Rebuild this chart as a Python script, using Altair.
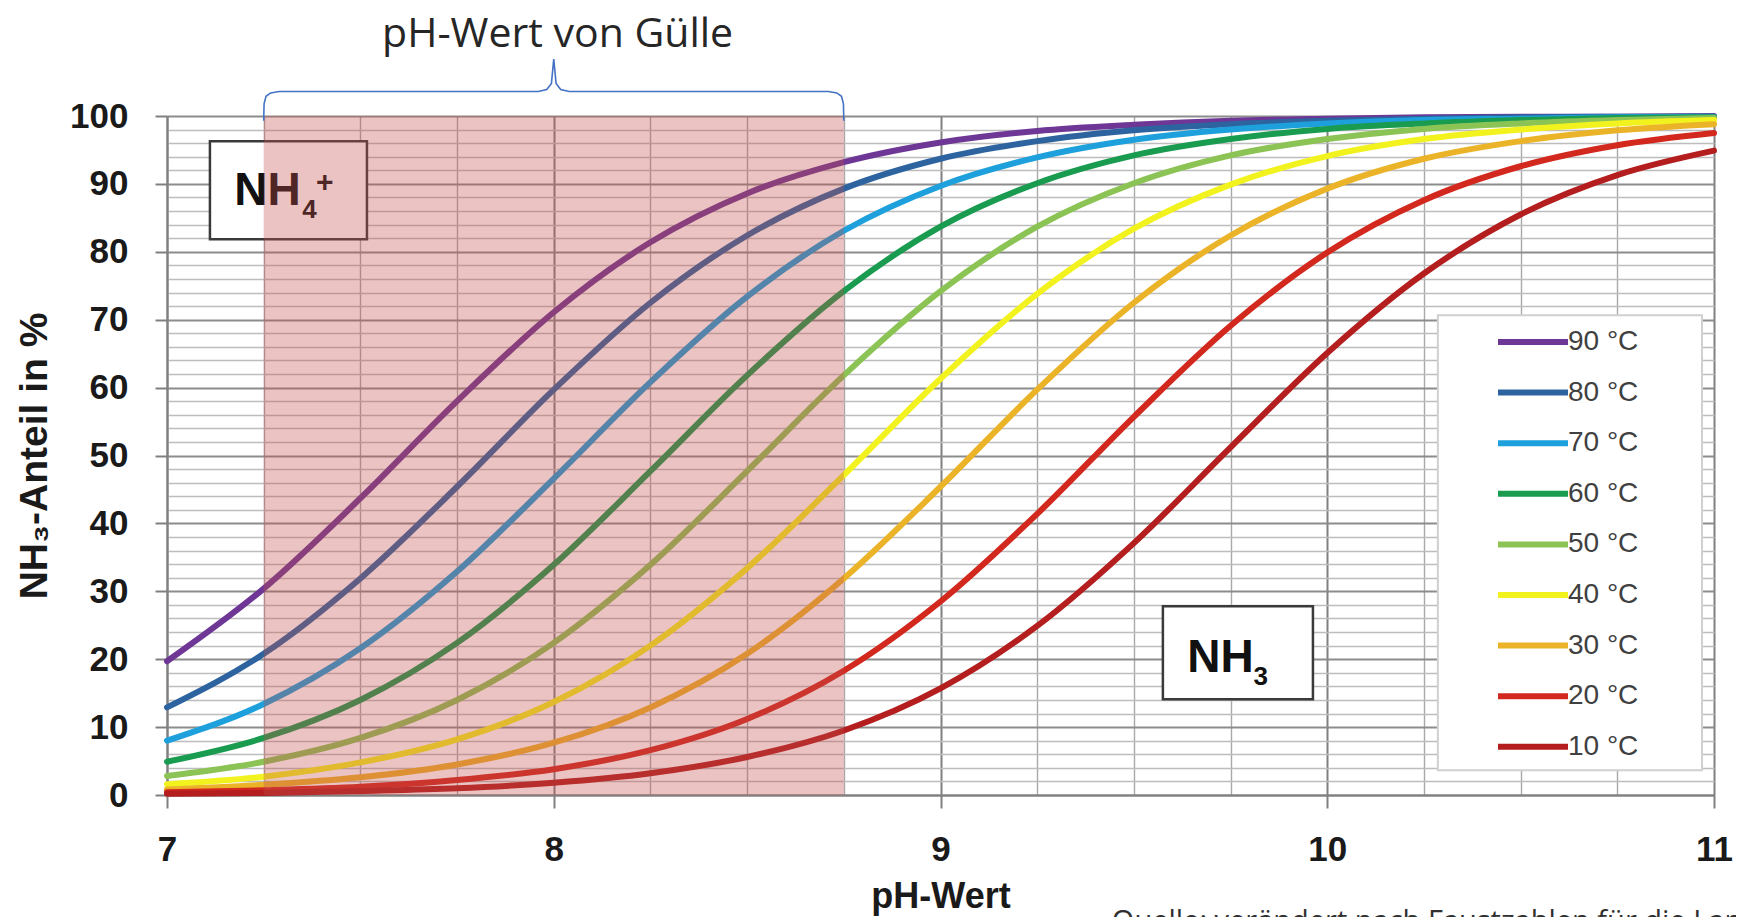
import altair as alt
import pandas as pd

# ---------------- data ----------------
ph_values = [7.0, 7.25, 7.5, 7.75, 8.0, 8.25, 8.5, 8.75, 9.0, 9.25, 9.5, 9.75,
             10.0, 10.25, 10.5, 10.75, 11.0]

temperature_labels = ["90 °C", "80 °C", "70 °C", "60 °C", "50 °C",
                      "40 °C", "30 °C", "20 °C", "10 °C"]

nh3_90 = [19.7, 30.4, 43.7, 58.0, 71.1, 81.4, 88.6, 93.2, 96.1, 97.8, 98.7, 99.3, 99.6, 99.8, 99.9, 99.9, 100.0]
nh3_80 = [12.9, 20.8, 31.9, 45.4, 59.7, 72.5, 82.4, 89.3, 93.7, 96.3, 97.9, 98.8, 99.3, 99.6, 99.8, 99.9, 99.9]
nh3_70 = [8.0, 13.4, 21.6, 32.9, 46.6, 60.8, 73.4, 83.1, 89.7, 93.9, 96.5, 98.0, 98.9, 99.4, 99.6, 99.8, 99.9]
nh3_60 = [4.9, 8.4, 14.0, 22.4, 33.9, 47.7, 61.8, 74.2, 83.7, 90.1, 94.2, 96.6, 98.1, 98.9, 99.4, 99.7, 99.8]
nh3_50 = [2.8, 4.9, 8.4, 14.0, 22.4, 33.9, 47.7, 61.8, 74.2, 83.7, 90.1, 94.2, 96.6, 98.1, 98.9, 99.4, 99.7]
nh3_40 = [1.6, 2.7, 4.8, 8.2, 13.7, 22.0, 33.4, 47.1, 61.3, 73.8, 83.4, 89.9, 94.1, 96.6, 98.0, 98.9, 99.4]
nh3_30 = [0.8, 1.5, 2.6, 4.5, 7.7, 12.9, 20.8, 31.9, 45.4, 59.7, 72.5, 82.4, 89.3, 93.7, 96.3, 97.9, 98.8]
nh3_20 = [0.4, 0.7, 1.2, 2.2, 3.8, 6.6, 11.2, 18.3, 28.5, 41.4, 55.7, 69.1, 79.9, 87.6, 92.6, 95.7, 97.5]
nh3_10 = [0.2, 0.3, 0.6, 1.0, 1.8, 3.2, 5.6, 9.5, 15.7, 24.9, 37.1, 51.2, 65.1, 76.8, 85.5, 91.3, 94.9]

line_colors = ["#6E3796", "#2D64A0", "#1EA0DC", "#199B50", "#8CC355",
               "#F2F21E", "#EBB428", "#D2281E", "#B41E1E"]

# axis tick / grid values
x_grid_values = [7.0, 7.25, 7.5, 7.75, 8.0, 8.25, 8.5, 8.75, 9.0, 9.25, 9.5, 9.75,
                 10.0, 10.25, 10.5, 10.75, 11.0]
y_grid_values = [0, 2, 4, 6, 8, 10, 12, 14, 16, 18, 20, 22, 24, 26, 28, 30, 32, 34, 36, 38,
                 40, 42, 44, 46, 48, 50, 52, 54, 56, 58, 60, 62, 64, 66, 68, 70, 72, 74, 76, 78,
                 80, 82, 84, 86, 88, 90, 92, 94, 96, 98, 100]

# shaded slurry pH range
slurry_ph_from = [7.25]
slurry_ph_to = [8.75]
slurry_pct_from = [0]
slurry_pct_to = [100]

# curly brace above the shaded range
brace_ph = [7.25, 7.251, 7.256, 7.268, 7.29, 7.96, 7.982, 7.994, 8.0, 8.006, 8.018, 8.04,
            8.71, 8.732, 8.744, 8.749, 8.75]
brace_pct = [99.3, 101.8, 102.9, 103.4, 103.6, 103.6, 103.9, 104.8, 108.4, 104.8, 103.9, 103.6,
             103.6, 103.4, 102.9, 101.8, 99.3]

# label boxes (NH4+ and NH3)
box_ph_from = [7.111, 9.575]
box_ph_to = [7.517, 9.963]
box_pct_top = [96.27, 27.8]
box_pct_bottom = [81.84, 14.1]

box_texts = ["NH", "4", "+", "NH", "3"]
box_text_ph = [7.174, 7.350, 7.385, 9.638, 9.809]
box_text_pct = [86.85, 84.93, 88.8, 18.07, 16.16]
box_text_size = [46, 26, 30, 46, 26]

# legend frame
legend_ph_from = [10.286]
legend_ph_to = [10.969]
legend_pct_top = [70.65]
legend_pct_bottom = [3.64]

title_text = ["pH-Wert von Gülle"]
title_ph = [8.01]
title_pct = [110.2]

caption_text = ["Quelle: verändert nach Faustzahlen für die Landwirtschaft (Grün"]
caption_ph = [9.443]
caption_pct = [-20.0]

# ---------------- tables ----------------
series_values = [nh3_90, nh3_80, nh3_70, nh3_60, nh3_50, nh3_40, nh3_30, nh3_20, nh3_10]
rows = []
for i, (t, vals) in enumerate(zip(temperature_labels, series_values)):
    for p, v in zip(ph_values, vals):
        rows.append({"temp": t, "ph": p, "nh3": v, "draw": i})
curves = pd.DataFrame(rows)

slurry = pd.DataFrame({"x": slurry_ph_from, "x2": slurry_ph_to,
                       "y": slurry_pct_from, "y2": slurry_pct_to})
brace = pd.DataFrame({"x": brace_ph, "y": brace_pct, "i": list(range(len(brace_ph)))})
boxes = pd.DataFrame({"x": box_ph_from, "x2": box_ph_to, "y": box_pct_top, "y2": box_pct_bottom})
btexts = pd.DataFrame({"t": box_texts, "x": box_text_ph, "y": box_text_pct, "s": box_text_size})
legend_frame = pd.DataFrame({"x": legend_ph_from, "x2": legend_ph_to,
                             "y": legend_pct_top, "y2": legend_pct_bottom})
title_df = pd.DataFrame({"t": title_text, "x": title_ph, "y": title_pct})
caption_df = pd.DataFrame({"t": caption_text, "x": caption_ph, "y": caption_pct})

# ---------------- scales / axes ----------------
x_scale = alt.Scale(domain=[7, 11], nice=False, zero=False)
y_scale = alt.Scale(domain=[0, 100], nice=False, zero=False)

LBL_FONT = "Liberation Sans"
TXT = "#1a1a1a"

x_major = "datum.value % 1 == 0"
y_major = "datum.value % 10 == 0"

x_axis = alt.Axis(
    values=x_grid_values, tickCount=200, tickMinStep=0.01,
    labelExpr=f"{x_major} ? format(datum.value, 'd') : ''",
    grid=True,
    gridColor={"condition": {"test": x_major, "value": "#808080"}, "value": "#a9a9a9"},
    gridWidth={"condition": {"test": x_major, "value": 2}, "value": 1.4},
    tickOpacity={"condition": {"test": x_major, "value": 1}, "value": 0},
    tickSize=13, tickWidth=2, tickColor="#808080",
    domainColor="#808080", domainWidth=2,
    labelFont=LBL_FONT, labelFontSize=35, labelFontWeight="bold", labelColor=TXT,
    labelPadding=24, labelOverlap=False, labelFlush=False, labelBound=False,
    title="pH-Wert", titleFont=LBL_FONT, titleFontSize=36, titleFontWeight="bold",
    titleColor=TXT, titlePadding=12,
)
y_axis = alt.Axis(
    values=y_grid_values, tickCount=200, tickMinStep=0.1,
    labelExpr=f"{y_major} ? format(datum.value, 'd') : ''",
    grid=True,
    gridColor={"condition": {"test": y_major, "value": "#8c8c8c"}, "value": "#bdbdbd"},
    gridWidth={"condition": {"test": y_major, "value": 2}, "value": 1.4},
    tickOpacity={"condition": {"test": y_major, "value": 1}, "value": 0},
    tickSize=12, tickWidth=2, tickColor="#808080",
    domainColor="#808080", domainWidth=2,
    labelFont=LBL_FONT, labelFontSize=35, labelFontWeight="bold", labelColor=TXT,
    labelPadding=27, labelOverlap=False, labelFlush=False, labelBound=False,
    title="NH₃-Anteil in %", titleFont=LBL_FONT, titleFontSize=39, titleFontWeight="bold",
    titleColor=TXT, titlePadding=15,
)

legend = alt.Legend(
    orient="none", legendX=1328, legendY=208, title=None,
    symbolType="M-1,0H3.667", symbolSize=900, symbolStrokeWidth=6,
    labelFont=LBL_FONT, labelFontSize=28, labelColor="#404040",
    labelOffset=37, rowPadding=18.6, padding=0, symbolOffset=0,
)

lines = alt.Chart(curves).mark_line(strokeWidth=6, strokeCap="round", interpolate="monotone").encode(
    x=alt.X("ph:Q", scale=x_scale, axis=x_axis),
    y=alt.Y("nh3:Q", scale=y_scale, axis=y_axis),
    color=alt.Color("temp:N", scale=alt.Scale(domain=temperature_labels, range=line_colors),
                    sort=temperature_labels, legend=legend),
    detail="draw:O",
)

legend_box = alt.Chart(legend_frame).mark_rect(fill="white", stroke="#d0d0d0", strokeWidth=2).encode(
    x=alt.X("x:Q", scale=x_scale), x2="x2:Q",
    y=alt.Y("y:Q", scale=y_scale), y2="y2:Q",
)

label_boxes = alt.Chart(boxes).mark_rect(fill="white", stroke="#3a3a3a", strokeWidth=2.5).encode(
    x=alt.X("x:Q", scale=x_scale), x2="x2:Q",
    y=alt.Y("y:Q", scale=y_scale), y2="y2:Q",
)

label_texts = alt.Chart(btexts).mark_text(
    font=LBL_FONT, fontWeight="bold", color="#111111", align="left", baseline="alphabetic"
).encode(
    x=alt.X("x:Q", scale=x_scale),
    y=alt.Y("y:Q", scale=y_scale),
    text="t:N",
    size=alt.Size("s:Q", scale=None, legend=None),
)

shade = alt.Chart(slurry).mark_rect(color="#C0504D", opacity=0.34).encode(
    x=alt.X("x:Q", scale=x_scale), x2="x2:Q",
    y=alt.Y("y:Q", scale=y_scale), y2="y2:Q",
)

brace_line = alt.Chart(brace).mark_line(color="#4472C4", strokeWidth=1.6).encode(
    x=alt.X("x:Q", scale=x_scale),
    y=alt.Y("y:Q", scale=y_scale),
    order="i:Q",
)

title = alt.Chart(title_df).mark_text(
    font="Open Sans", fontSize=41, color="#262626", align="center", baseline="alphabetic"
).encode(
    x=alt.X("x:Q", scale=x_scale), y=alt.Y("y:Q", scale=y_scale), text="t:N",
)

caption = alt.Chart(caption_df).mark_text(
    font="Open Sans", fontSize=29, color="#303030", align="left", baseline="alphabetic"
).encode(
    x=alt.X("x:Q", scale=x_scale), y=alt.Y("y:Q", scale=y_scale), text="t:N",
)

chart = alt.layer(
    lines, legend_box, label_boxes, label_texts, shade, brace_line, title, caption
).properties(
    width=1547, height=679,
    padding={"left": 159, "top": 108, "right": 22, "bottom": 122},
    autosize=alt.AutoSizeParams(type="none"),
).configure_view(stroke=None).configure(background="white")

chart.save("out.html", embed_options={"renderer": "svg", "actions": False})
